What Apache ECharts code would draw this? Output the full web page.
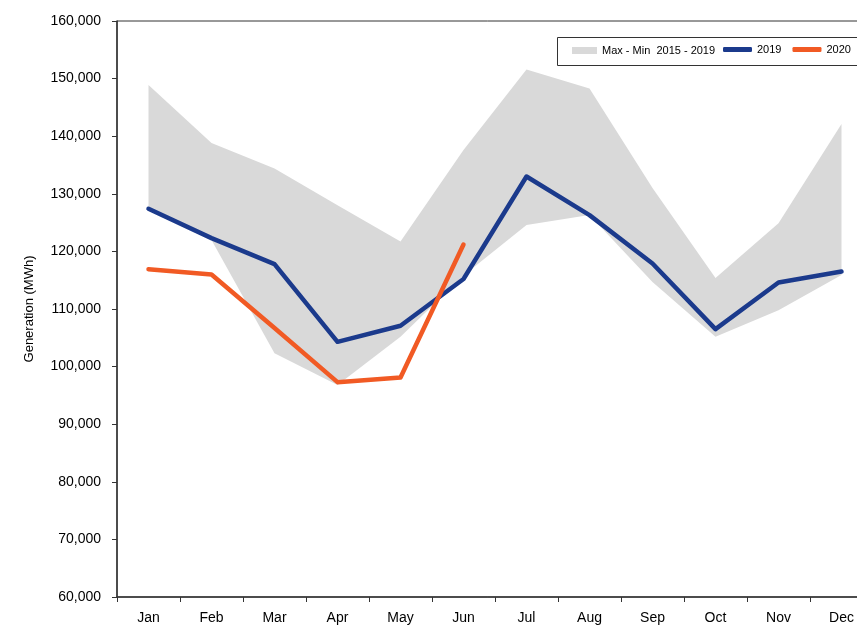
<!DOCTYPE html>
<html>
<head>
<meta charset="utf-8">
<script src="https://cdn.jsdelivr.net/npm/echarts@6/dist/echarts.min.js"></script>
<style>
html,body{margin:0;padding:0;background:#fff;}
#chart{width:857px;height:625px;}
</style>
</head>
<body>
<div id="chart"></div>
<script>
const months = ['Jan','Feb','Mar','Apr','May','Jun','Jul','Aug','Sep','Oct','Nov','Dec'];
const bandMax = [148900,138800,134400,128000,121700,137600,151600,148300,131000,115400,124900,142100];
const bandMin = [127400,122000,102300,96800,105200,115800,124600,126300,114700,105200,109800,115900];
const gen2019 = [127400,122300,117800,104300,107100,115200,133000,126300,117900,106500,114600,116500];
const gen2020 = [116900,116000,106700,97300,98100,121200];
const yTicks = {min:60000, max:160000, interval:10000};

const bandName = 'Max - Min  2015 - 2019';
const bandDiff = bandMax.map((v,i)=>v - bandMin[i]);
const font = '"Liberation Sans", Arial, sans-serif';

const chart = echarts.init(document.getElementById('chart'), null, {renderer:'canvas'});
chart.setOption({
  animation:false,
  backgroundColor:'#fff',
  textStyle:{fontFamily:font},
  grid:{left:117, top:21, width:756, height:576, outerBoundsMode:'none', containLabel:false,
        show:true, borderColor:'#333', borderWidth:1, backgroundColor:'transparent'},
  graphic:[{type:'rect', left:557, top:37, z:0, shape:{width:330, height:28}, style:{fill:'#fff', stroke:'#333', lineWidth:1}}],
  legend:[
    {data:[bandName], left:572, top:45, itemWidth:25, itemHeight:7, icon:'rect', itemGap:0,
     textStyle:{fontSize:11, color:'#000', fontFamily:font}, padding:0},
    {data:['2019','2020'], left:723, top:44, itemWidth:29, itemHeight:5, icon:'roundRect', itemGap:11,
     textStyle:{fontSize:11, color:'#000', fontFamily:font}, padding:0}
  ],
  xAxis:{
    type:'category', data:months, boundaryGap:true,
    axisLine:{lineStyle:{color:'#333', width:1.5}},
    axisTick:{show:true, length:5, lineStyle:{color:'#333', width:1}},
    axisLabel:{fontSize:14, color:'#000', margin:14, fontFamily:font},
    splitLine:{show:false}
  },
  yAxis:{
    type:'value', min:yTicks.min, max:yTicks.max, interval:yTicks.interval,
    name:'Generation (MWh)', nameLocation:'middle', nameGap:81,
    nameTextStyle:{fontSize:13, color:'#000', fontFamily:font},
    axisLine:{show:true, lineStyle:{color:'#333', width:1.5}},
    axisTick:{show:true, length:5, lineStyle:{color:'#333', width:1}},
    axisLabel:{fontSize:14, color:'#000', margin:16, fontFamily:font,
      formatter:v=>v.toLocaleString('en-US')},
    splitLine:{show:false}
  },
  series:[
    {name:'bandMin', type:'line', data:bandMin, stack:'band', symbol:'none',
     lineStyle:{opacity:0, width:0}, silent:true, z:1},
    {name:bandName, type:'line', data:bandDiff, stack:'band', symbol:'none',
     itemStyle:{color:'#D9D9D9'}, lineStyle:{opacity:0, width:0},
     areaStyle:{color:'#D9D9D9', opacity:1}, silent:true, z:1},
    {name:'2019', type:'line', data:gen2019, symbol:'none',
     itemStyle:{color:'#1B3A8C'}, lineStyle:{color:'#1B3A8C', width:4.5, cap:'round', join:'round'}, z:3},
    {name:'2020', type:'line', data:gen2020, symbol:'none',
     itemStyle:{color:'#F15A24'}, lineStyle:{color:'#F15A24', width:4.5, cap:'round', join:'round'}, z:4}
  ]
});
</script>
</body>
</html>
